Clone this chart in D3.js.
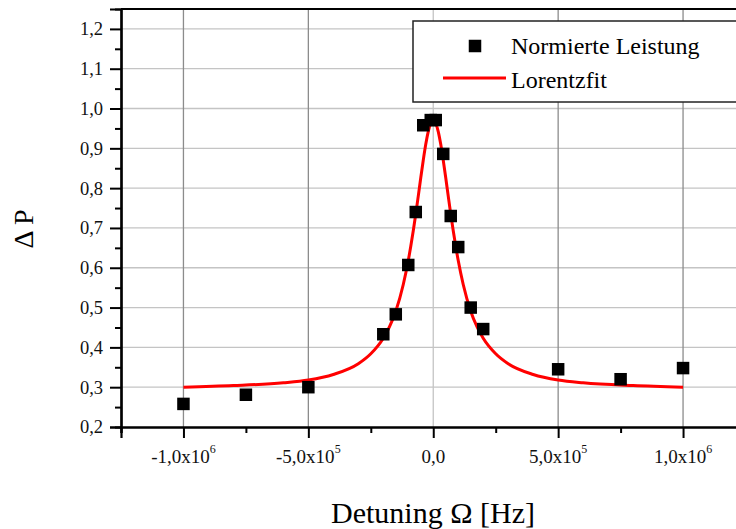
<!DOCTYPE html>
<html>
<head>
<meta charset="utf-8">
<script src="https://cdn.jsdelivr.net/npm/d3@7"></script>
<style>
  body { margin: 0; background: #fff; }
  svg { display: block; font-family: "Liberation Serif", "DejaVu Serif", serif; }
</style>
</head>
<body>
<svg id="chart" width="736" height="529"></svg>
<script>
//measured points (Hz, normalized power)
var detuning = [-1e6, -7.5e5, -5e5, -2e5, -1.5e5, -1e5, -7e4, -4e4, -1e4, 1e4, 4e4, 7e4, 1e5, 1.5e5, 2e5, 5e5, 7.5e5, 1e6];
var leistung = [0.258, 0.281, 0.300, 0.433, 0.483, 0.607, 0.740, 0.958, 0.971, 0.971, 0.886, 0.730, 0.652, 0.500, 0.446, 0.345, 0.320, 0.348];

//fit line
var fitX = [-1e6, -8e5, -6e5, -5e5, -4e5, -3e5, -2.5e5, -2e5, -1.75e5, -1.5e5, -1.2e5, -1e5, -9e4, -8e4, -7e4, -6e4, -5e4, -4e4, -3e4, -2e4, -1e4, 0,
            1e4, 2e4, 3e4, 4e4, 5e4, 6e4, 7e4, 8e4, 9e4, 1e5, 1.2e5, 1.5e5, 1.75e5, 2e5, 2.5e5, 3e5, 4e5, 5e5, 6e5, 8e5, 1e6];
var fitY = [0.300, 0.304, 0.311, 0.318, 0.332, 0.359, 0.384, 0.423, 0.452, 0.491, 0.558, 0.618, 0.654, 0.693, 0.735, 0.780, 0.826, 0.870, 0.910, 0.942, 0.963, 0.970,
            0.963, 0.942, 0.910, 0.870, 0.826, 0.780, 0.735, 0.693, 0.654, 0.618, 0.558, 0.491, 0.452, 0.423, 0.384, 0.359, 0.332, 0.318, 0.311, 0.304, 0.300];

var yTicks = [0.2, 0.3, 0.4, 0.5, 0.6, 0.7, 0.8, 0.9, 1.0, 1.1, 1.2];
var xTicks = [-1e6, -5e5, 0, 5e5, 1e6];
var xTickLabels = [['-1,0x10', '6'], ['-5,0x10', '5'], ['0,0', ''], ['5,0x10', '5'], ['1,0x10', '6']];
var legendLabels = ['Normierte Leistung', 'Lorentzfit'];

var svg = d3.select('#chart');

var x = d3.scaleLinear().domain([-1.25e6, 1.25e6]).range([121, 745.5]);
var y = d3.scaleLinear().domain([0.2, 1.25]).range([427, 9]);

//grid
svg.append('g').selectAll('line')
  .data(yTicks.slice(1))
  .join('line')
  .attr('x1', x(-1.25e6)).attr('x2', x(1.25e6))
  .attr('y1', function(d) { return y(d); }).attr('y2', function(d) { return y(d); })
  .attr('stroke', '#c4c4c4').attr('stroke-width', 1.3);

svg.append('g').selectAll('line')
  .data(xTicks)
  .join('line')
  .attr('x1', function(d) { return x(d); }).attr('x2', function(d) { return x(d); })
  .attr('y1', y(0.2)).attr('y2', y(1.25))
  .attr('stroke', function(d) { return d==0 ? '#c4c4c4' : '#8c8c8c'; })
  .attr('stroke-width', 1.3);

//axes
var yAxis = d3.axisLeft(y).tickValues(yTicks).tickSize(11).tickFormat(function(d) { return d3.format('.1f')(d).replace('.', ','); });
var yMinor = d3.axisLeft(y).tickValues(d3.range(0.25, 1.25, 0.1)).tickSize(6).tickFormat('');
var xAxis = d3.axisBottom(x).tickValues(xTicks).tickSize(11).tickFormat('');
var xMinor = d3.axisBottom(x).tickValues([-1.25e6, -7.5e5, -2.5e5, 2.5e5, 7.5e5]).tickSize(6).tickFormat('');

var gy = svg.append('g').attr('transform', 'translate(121,0)').call(yAxis);
svg.append('g').attr('transform', 'translate(121,0)').call(yMinor);
var gx = svg.append('g').attr('transform', 'translate(0,427)').call(xAxis);
svg.append('g').attr('transform', 'translate(0,427)').call(xMinor);

svg.selectAll('.domain').attr('stroke', '#000').attr('stroke-width', 2.2);
svg.selectAll('.tick line').attr('stroke', '#000').attr('stroke-width', 2);
gy.selectAll('.tick text').attr('font-size', 18.5).attr('fill', '#111').attr('x', -18)
  .attr('font-family', '"Liberation Serif", serif');

//top frame
svg.append('line')
  .attr('x1', 121).attr('x2', 736).attr('y1', y(1.25)).attr('y2', y(1.25))
  .attr('stroke', '#000').attr('stroke-width', 2.2);

//x tick labels with exponent
var xl = svg.append('g').selectAll('text')
  .data(xTicks)
  .join('text')
  .attr('x', function(d) { return x(d); })
  .attr('y', 463)
  .attr('text-anchor', 'middle')
  .attr('font-size', 19)
  .attr('fill', '#111');
xl.append('tspan').text(function(d, i) { return xTickLabels[i][0]; });
xl.append('tspan').attr('dy', -10).attr('font-size', 12).text(function(d, i) { return xTickLabels[i][1]; });

//fit line
var line = d3.line()
  .x(function(d) { return x(d[0]); })
  .y(function(d) { return y(d[1]); })
  .curve(d3.curveMonotoneX);

svg.append('path')
  .datum(d3.zip(fitX, fitY))
  .attr('d', line)
  .attr('fill', 'none')
  .attr('stroke', '#ff0000')
  .attr('stroke-width', 3);

//measured points
var sq = 12.5;
svg.append('g').selectAll('rect')
  .data(d3.zip(detuning, leistung))
  .join('rect')
  .attr('x', function(d) { return x(d[0]) - sq/2; })
  .attr('y', function(d) { return y(d[1]) - sq/2; })
  .attr('width', sq).attr('height', sq)
  .attr('fill', '#000');

//legend
var lg = svg.append('g');
lg.append('rect')
  .attr('x', 413).attr('y', 21).attr('width', 330).attr('height', 81)
  .attr('fill', '#fff').attr('stroke', '#222').attr('stroke-width', 1.5);
lg.append('rect').attr('x', 475 - sq/2).attr('y', 46 - sq/2).attr('width', sq).attr('height', sq).attr('fill', '#000');
lg.append('line').attr('x1', 443).attr('x2', 506).attr('y1', 78).attr('y2', 78).attr('stroke', '#ff0000').attr('stroke-width', 3);
lg.selectAll('text')
  .data(legendLabels)
  .join('text')
  .attr('x', 511)
  .attr('y', function(d, i) { return 54 + i*34; })
  .attr('font-size', 24)
  .attr('fill', '#000')
  .text(function(d) { return d; });

//axis titles
svg.append('text')
  .attr('x', 433).attr('y', 523)
  .attr('text-anchor', 'middle')
  .attr('font-size', 30)
  .attr('fill', '#000')
  .text('Detuning Ω [Hz]');

svg.append('text')
  .attr('transform', 'translate(33,229) rotate(-90)')
  .attr('text-anchor', 'middle')
  .attr('font-size', 28)
  .attr('fill', '#000')
  .text('Δ P');
</script>
</body>
</html>
